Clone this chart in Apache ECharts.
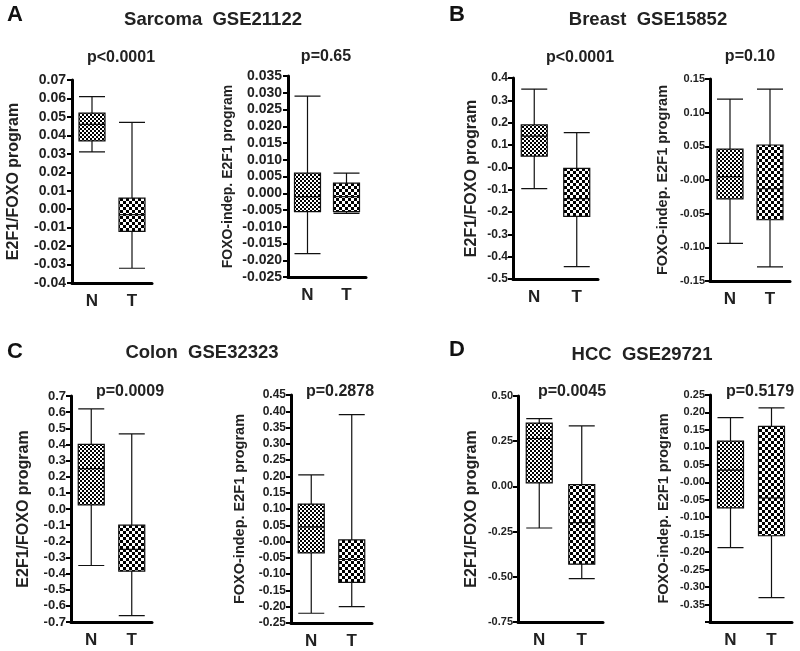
<!DOCTYPE html>
<html><head><meta charset="utf-8">
<script src="https://cdn.jsdelivr.net/npm/echarts@6/dist/echarts.min.js"></script>
<style>html,body{margin:0;padding:0;background:#fff}#c{width:800px;height:651px}</style>
</head><body><div id="c"></div>
<script>
// ---------------- DATA ----------------
const categories = ['N', 'T'];
// each box: [lower whisker, Q1, median, Q3, upper whisker]
const sarcomaE2F1FOXO = [[0.031, 0.037, 0.046, 0.052, 0.061], [-0.032, -0.012, -0.003, 0.006, 0.047]];
const sarcomaFOXOindep = [[-0.018, -0.0055, -0.001, 0.006, 0.029], [-0.006, -0.0055, -0.001, 0.003, 0.006]];
const breastE2F1FOXO = [[-0.095, 0.05, 0.14, 0.19, 0.35], [-0.445, -0.22, -0.14, -0.005, 0.155]];
const breastFOXOindep = [[-0.094, -0.028, 0.005, 0.046, 0.12], [-0.129, -0.059, -0.013, 0.052, 0.135]];
const colonE2F1FOXO = [[-0.35, 0.025, 0.25, 0.40, 0.62], [-0.66, -0.385, -0.25, -0.10, 0.465]];
const colonFOXOindep = [[-0.22, -0.035, 0.045, 0.115, 0.205], [-0.20, -0.125, -0.055, 0.005, 0.39]];
const hccE2F1FOXO = [[-0.23, 0.02, 0.265, 0.35, 0.375], [-0.51, -0.43, -0.20, 0.01, 0.335]];
const hccFOXOindep = [[-0.187, -0.073, 0.035, 0.118, 0.185], [-0.33, -0.153, -0.045, 0.16, 0.213]];

// tick labels (top to bottom)
const sarcomaE2F1Ticks = ['0.07','0.06','0.05','0.04','0.03','0.02','0.01','0.00','-0.01','-0.02','-0.03','-0.04'];
const sarcomaFOXOTicks = ['0.035','0.030','0.025','0.020','0.015','0.010','0.005','0.000','-0.005','-0.010','-0.015','-0.020','-0.025'];
const breastE2F1Ticks = ['0.4','0.3','0.2','0.1','-0.0','-0.1','-0.2','-0.3','-0.4','-0.5'];
const breastFOXOTicks = ['0.15','0.10','0.05','-0.00','-0.05','-0.10','-0.15'];
const colonE2F1Ticks = ['0.7','0.6','0.5','0.4','0.3','0.2','0.1','0.0','-0.1','-0.2','-0.3','-0.4','-0.5','-0.6','-0.7'];
const colonFOXOTicks = ['0.45','0.40','0.35','0.30','0.25','0.20','0.15','0.10','0.05','-0.00','-0.05','-0.10','-0.15','-0.20','-0.25'];
const hccE2F1Ticks = ['0.50','0.25','0.00','-0.25','-0.50','-0.75'];
const hccFOXOTicks = ['0.25','0.20','0.15','0.10','0.05','-0.00','-0.05','-0.10','-0.15','-0.20','-0.25','-0.30','-0.35',''];

const panelLetters = ['A', 'B', 'C', 'D'];
const panelTitles = ['Sarcoma  GSE21122', 'Breast  GSE15852', 'Colon  GSE32323', 'HCC  GSE29721'];
const pValues = ['p<0.0001', 'p=0.65', 'p<0.0001', 'p=0.10', 'p=0.0009', 'p=0.2878', 'p=0.0045', 'p=0.5179'];
const yNameE2F1FOXO = 'E2F1/FOXO program';
const yNameFOXOindep = 'FOXO-indep. E2F1 program';

// ---------------- LAYOUT ----------------
const ARIAL = 'Arial, "Liberation Sans", sans-serif';
const NARROW = '"Liberation Sans Narrow", "Arial Narrow", Arial, sans-serif';
const panels = [
  {data: sarcomaE2F1FOXO, ticks: sarcomaE2F1Ticks, max: 0.07, interval: 0.01, name: yNameE2F1FOXO, x0: 72, x1: 152, y0: 80, y1: 283, gap: 50, nfs: 16, tfs: 14, tff: ARIAL, lm: 6},
  {data: sarcomaFOXOindep, ticks: sarcomaFOXOTicks, max: 0.035, interval: 0.005, name: yNameFOXOindep, x0: 288, x1: 366, y0: 76, y1: 277, gap: 53, nfs: 14, tfs: 14, tff: ARIAL, lm: 6},
  {data: breastE2F1FOXO, ticks: breastE2F1Ticks, max: 0.4, interval: 0.1, name: yNameE2F1FOXO, x0: 513, x1: 598, y0: 78, y1: 279, gap: 33, nfs: 16, tfs: 12, tff: ARIAL, lm: 5},
  {data: breastFOXOindep, ticks: breastFOXOTicks, max: 0.15, interval: 0.05, name: yNameFOXOindep, x0: 710, x1: 790, y0: 79, y1: 281, gap: 40, nfs: 14.5, tfs: 11, tff: ARIAL, lm: 5},
  {data: colonE2F1FOXO, ticks: colonE2F1Ticks, max: 0.7, interval: 0.1, name: yNameE2F1FOXO, x0: 71, x1: 152, y0: 396, y1: 622, gap: 39, nfs: 16, tfs: 13, tff: ARIAL, lm: 5},
  {data: colonFOXOindep, ticks: colonFOXOTicks, max: 0.45, interval: 0.05, name: yNameFOXOindep, x0: 291, x1: 372, y0: 395, y1: 623, gap: 44, nfs: 14.5, tfs: 12, tff: ARIAL, lm: 5},
  {data: hccE2F1FOXO, ticks: hccE2F1Ticks, max: 0.5, interval: 0.25, name: yNameE2F1FOXO, x0: 518, x1: 603, y0: 396, y1: 622, gap: 38, nfs: 16, tfs: 11, tff: NARROW, lm: 5},
  {data: hccFOXOindep, ticks: hccFOXOTicks, max: 0.25, interval: 0.05, name: yNameFOXOindep, x0: 710, x1: 792, y0: 395, y1: 622, gap: 39, nfs: 14.5, tfs: 11, tff: NARROW, lm: 5}
];
const letterPos = [[15, 15], [457, 15], [15, 352], [457, 350]];
const titlePos = [[213, 20], [648, 20], [202, 353], [642, 355]];
const pPos = [[121, 58], [326, 57], [580, 58], [750, 57], [130, 392], [340, 392], [572, 392], [760, 392]];

function checker(cell) {
  const c = document.createElement('canvas');
  c.width = c.height = cell * 2;
  const g = c.getContext('2d');
  g.fillStyle = '#fff'; g.fillRect(0, 0, cell * 2, cell * 2);
  g.fillStyle = '#000'; g.fillRect(0, 0, cell, cell); g.fillRect(cell, cell, cell, cell);
  return c;
}
const patN = {image: checker(2), repeat: 'repeat'};
const patT = {image: checker(3), repeat: 'repeat'};

const grid = [], xAxis = [], yAxis = [], series = [];
panels.forEach((p, i) => {
  const min = p.max - (p.ticks.length - 1) * p.interval;
  grid.push({left: p.x0, top: p.y0, width: p.x1 - p.x0, height: p.y1 - p.y0, outerBoundsMode: 'none', containLabel: false});
  xAxis.push({
    type: 'category', gridIndex: i, data: categories,
    axisLine: {show: true, onZero: false, lineStyle: {color: '#000', width: 3}},
    axisTick: {show: false},
    axisLabel: {fontSize: 17, fontWeight: 'bold', color: '#222', margin: 10, fontFamily: ARIAL},
    splitLine: {show: false}
  });
  yAxis.push({
    type: 'value', gridIndex: i,
    min: +min.toFixed(4), max: p.max, interval: p.interval,
    axisLine: {show: true, onZero: false, lineStyle: {color: '#000', width: 3}},
    axisTick: {show: true, length: 5, lineStyle: {color: '#000', width: 2}},
    axisLabel: {
      fontSize: p.tfs, fontWeight: 'bold', color: '#222', fontFamily: p.tff, margin: p.lm,
      formatter: v => { const k = Math.round((p.max - v) / p.interval); return p.ticks[k] !== undefined ? p.ticks[k] : ''; }
    },
    splitLine: {show: false},
    name: p.name, nameLocation: 'middle', nameGap: p.gap,
    nameTextStyle: {fontSize: p.nfs, fontWeight: 'bold', color: '#222', fontFamily: ARIAL}
  });
  series.push({
    type: 'boxplot', xAxisIndex: i, yAxisIndex: i, silent: true,
    boxWidth: [26, 26],
    itemStyle: {borderColor: '#111', borderWidth: 1.2},
    data: p.data.map((d, j) => ({value: d, itemStyle: {color: j === 0 ? patN : patT}}))
  });
});

const graphic = [];
panelLetters.forEach((t, i) => graphic.push({type: 'text', x: letterPos[i][0], y: letterPos[i][1],
  style: {text: t, font: 'bold 22px Arial, "Liberation Sans", sans-serif', fill: '#111', align: 'center', verticalAlign: 'middle'}}));
panelTitles.forEach((t, i) => graphic.push({type: 'text', x: titlePos[i][0], y: titlePos[i][1],
  style: {text: t, font: 'bold 18.5px Arial, "Liberation Sans", sans-serif', fill: '#222', align: 'center', verticalAlign: 'middle'}}));
pValues.forEach((t, i) => graphic.push({type: 'text', x: pPos[i][0], y: pPos[i][1],
  style: {text: t, font: 'bold 16px Arial, "Liberation Sans", sans-serif', fill: '#222', align: 'center', verticalAlign: 'middle'}}));

const chart = echarts.init(document.getElementById('c'), null, {renderer: 'canvas'});
chart.setOption({animation: false, backgroundColor: '#fff', grid, xAxis, yAxis, series, graphic});
</script></body></html>
